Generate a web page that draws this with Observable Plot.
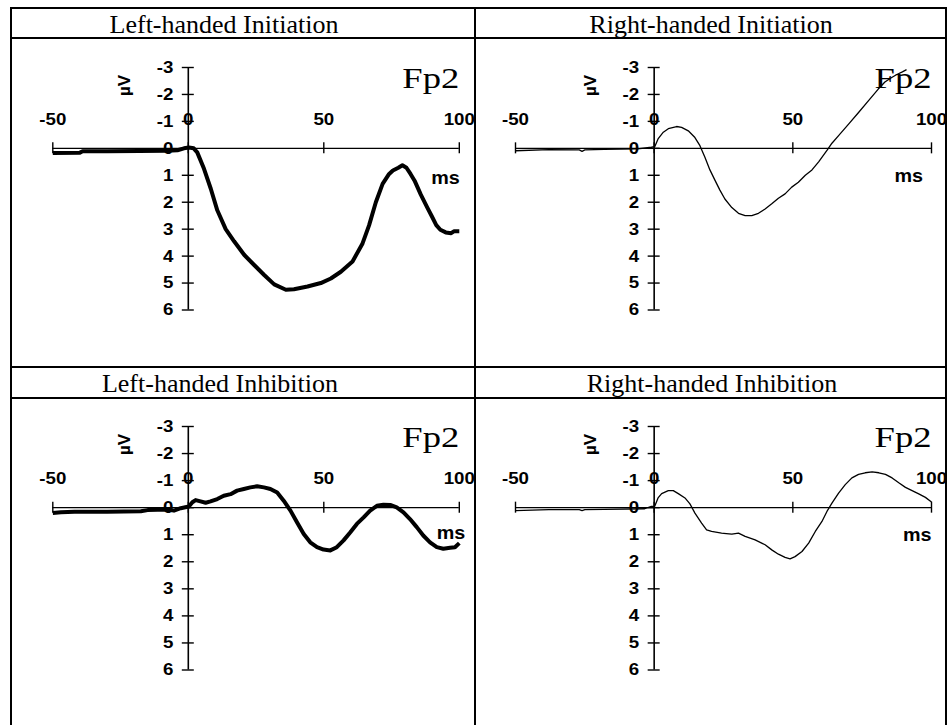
<!DOCTYPE html>
<html>
<head>
<meta charset="utf-8">
<script src="https://cdn.jsdelivr.net/npm/d3@7"></script>
<script src="https://cdn.jsdelivr.net/npm/@observablehq/plot@0.6"></script>
<style>
  html, body { margin: 0; padding: 0; overflow: hidden; background: #fff; }
  #page { position: relative; width: 948px; height: 725px; overflow: hidden; background: #fff; }
  .rule { position: absolute; background: #000; }
  .title { position: absolute; font-family: "Liberation Serif", "Times New Roman", serif; font-size: 26px; line-height: 26px; white-space: nowrap; transform: translateX(-50%); color: #000; }
  .cell { position: absolute; overflow: hidden; }
  .cell svg { overflow: hidden; }
</style>
</head>
<body>
<div id="page"></div>
<script>
// ---------- data ----------
const xTicks = [-50, 0, 50, 100];
const yTicks = [-3, -2, -1, 0, 1, 2, 3, 4, 5, 6];
const titles = ["Left-handed Initiation", "Right-handed Initiation", "Left-handed Inhibition", "Right-handed Inhibition"];
const electrode = "Fp2";
const xUnit = "ms";
const yUnit = "µV";

// Left-handed Initiation (ms, µV; positive plotted downward)
const leftInitTime = [-50, -40, -39, -30, -18, -8, -4, -1.6, 0.2, 2, 3.3, 5.8, 8.3, 10.7, 13.8, 16.9, 20.6, 24.3, 28, 31.7, 36, 39, 44, 48.9, 52.6, 56.3, 60.6, 64.3, 66.7, 69.2, 71.7, 74.1, 75.5, 77.5, 79, 80.5, 82, 83.5, 85.8, 88.2, 90, 91.5, 93, 95, 97, 98, 100];
const leftInitUV   = [0.17, 0.16, 0.11, 0.11, 0.1, 0.09, 0.07, 0, -0.03, 0, 0.15, 0.76, 1.5, 2.3, 3.0, 3.45, 3.95, 4.33, 4.7, 5.05, 5.25, 5.23, 5.13, 5.0, 4.83, 4.58, 4.2, 3.53, 2.86, 2.0, 1.32, 0.95, 0.82, 0.72, 0.63, 0.72, 0.95, 1.2, 1.72, 2.2, 2.55, 2.85, 3.02, 3.12, 3.15, 3.08, 3.08];

// Right-handed Initiation
const rightInitTime = [-50, -38, -27, -26, -25, -18, -6, -1, 0.2, 1.4, 3.3, 5.1, 8.1, 9.9, 12.3, 14.7, 16.5, 18.3, 20.1, 21.9, 23.7, 25.5, 28, 30.4, 32.8, 35.2, 37.6, 40, 42.4, 44.8, 47.2, 49.6, 52, 54.5, 56.9, 59.3, 62.5, 64.1, 66.5, 70.1, 73.7, 77.3, 80.8, 83.2, 85.5, 87.5, 89.5, 91];
const rightInitUV   = [0.09, 0.05, 0.06, 0.11, 0.06, 0.04, 0.02, -0.04, -0.06, -0.35, -0.6, -0.73, -0.81, -0.78, -0.65, -0.4, -0.1, 0.33, 0.8, 1.18, 1.55, 1.88, 2.2, 2.41, 2.5, 2.5, 2.41, 2.25, 2.06, 1.85, 1.69, 1.44, 1.26, 1.0, 0.8, 0.5, 0.05, -0.19, -0.47, -0.9, -1.33, -1.77, -2.2, -2.46, -2.62, -2.74, -2.84, -2.92];

// Left-handed Inhibition
const leftInhTime = [-50, -47, -42, -30, -17.5, -15, -7.7, -5.3, -2.8, 0.2, 1.5, 2.7, 4.5, 6.4, 8.2, 10.7, 13.1, 15.6, 18, 20.5, 22.9, 25.4, 27.9, 30.3, 32.8, 35.2, 37.7, 40.1, 42.6, 45, 47.5, 49.9, 52.4, 54.8, 57.3, 59.8, 62.2, 64.7, 67.1, 69.6, 72, 74.5, 76.9, 79.4, 81.8, 84.3, 86.7, 89.2, 91.7, 94.1, 96.6, 98.4, 100];
const leftInhUV   = [0.2, 0.17, 0.15, 0.15, 0.13, 0.09, 0.07, 0.11, 0.02, -0.04, -0.2, -0.28, -0.23, -0.18, -0.23, -0.32, -0.44, -0.5, -0.63, -0.69, -0.75, -0.79, -0.75, -0.69, -0.56, -0.26, 0.11, 0.54, 0.97, 1.28, 1.46, 1.55, 1.58, 1.46, 1.21, 0.91, 0.6, 0.36, 0.11, -0.07, -0.11, -0.1, -0.01, 0.17, 0.42, 0.72, 1.03, 1.28, 1.46, 1.52, 1.48, 1.46, 1.31];

// Right-handed Inhibition
const rightInhTime = [-50, -38, -27, -26, -25, -18, -3.4, -1, 0.2, 1.4, 2.7, 5.1, 6.9, 8.7, 11.1, 12.9, 14.7, 17.1, 18.9, 20.7, 24.3, 26, 28, 30.4, 32.8, 36.4, 40, 42.4, 44.8, 47.2, 49, 50.8, 53.3, 55.7, 58.1, 60.5, 62.3, 64.1, 66.5, 68.9, 71.3, 73.7, 76.1, 78.6, 81, 83.4, 85.8, 88.2, 90.6, 93, 95.4, 97.8, 100];
const rightInhUV   = [0.11, 0.07, 0.07, 0.11, 0.07, 0.06, 0.04, -0.05, -0.05, -0.36, -0.52, -0.63, -0.63, -0.52, -0.36, -0.14, 0.2, 0.57, 0.82, 0.88, 0.94, 0.96, 0.98, 0.94, 1.06, 1.19, 1.37, 1.56, 1.72, 1.84, 1.89, 1.81, 1.62, 1.31, 0.88, 0.51, 0.14, -0.17, -0.54, -0.85, -1.1, -1.23, -1.29, -1.32, -1.29, -1.23, -1.1, -0.92, -0.75, -0.63, -0.51, -0.38, -0.21];

// ---------- layout ----------
const page = document.getElementById("page");
function rule(l, t, w, h) {
  const d = document.createElement("div");
  d.className = "rule";
  Object.assign(d.style, {left: l + "px", top: t + "px", width: w + "px", height: h + "px"});
  page.appendChild(d);
}

const panels = [
  {title: titles[0], time: leftInitTime, uv: leftInitUV, sw: 4, left: 12, top: 39, width: 462, mL: 40.3, mR: 15.2, mT: 28, titleX: 224, titleTop: 11.5, msDx: 0.5, msDy: 30},
  {title: titles[1], time: rightInitTime, uv: rightInitUV, sw: 1.3, left: 476, top: 39, width: 469, mL: 39, mR: 14, mT: 28, titleX: 711, titleTop: 11.5, msDx: -8.5, msDy: 28},
  {title: titles[2], time: leftInhTime, uv: leftInhUV, sw: 4, left: 12, top: 399, width: 462, mL: 40.3, mR: 15.2, mT: 27, titleX: 220, titleTop: 370.5, msDx: 6, msDy: 25},
  {title: titles[3], time: rightInhTime, uv: rightInhUV, sw: 1.3, left: 476, top: 399, width: 469, mL: 39, mR: 14, mT: 27, titleX: 712, titleTop: 370.5, msDx: 0, msDy: 27}
];

const sansBold = "'Liberation Sans', Arial, sans-serif";
const tickSize = 17;

for (const p of panels) {
  const t = document.createElement("div");
  t.className = "title";
  t.textContent = p.title;
  t.style.left = p.titleX + "px";
  t.style.top = p.titleTop + "px";
  page.appendChild(t);

  const pts = p.time.map((x, i) => ({t: x, v: p.uv[i]}));
  const svg = Plot.plot({
    width: p.width,
    height: 327,
    marginLeft: p.mL,
    marginRight: p.mR,
    marginTop: p.mT,
    marginBottom: 56.5,
    x: {domain: [-50, 100], axis: null},
    y: {domain: [-3, 6], reverse: true, axis: null},
    style: {background: "white", overflow: "hidden"},
    marks: [
      Plot.ruleY([0], {x1: -50, x2: 100, stroke: "black", strokeWidth: 1.4}),
      Plot.ruleX([0], {y1: -3, y2: 6, stroke: "black", strokeWidth: 1.6}),
      Plot.ruleX(xTicks, {x: d => d, y1: 0, y2: 0, insetTop: -5.5, insetBottom: -5.5, stroke: "black", strokeWidth: 1.4}),
      Plot.ruleY(yTicks, {y: d => d, x1: 0, x2: 0, insetLeft: -6, insetRight: -6, stroke: "black", strokeWidth: 1.4}),
      Plot.text(yTicks, {x: 0, y: d => d, text: d => String(d), textAnchor: "end", dx: -15, fontFamily: sansBold, fontWeight: "bold", fontSize: tickSize, fill: "black"}),
      Plot.text(xTicks, {x: d => d, y: 0, text: d => String(d), dy: -29, fontFamily: sansBold, fontWeight: "bold", fontSize: tickSize, fill: "black"}),
      Plot.text([xUnit], {x: 100, y: 0, text: d => d, textAnchor: "end", dx: p.msDx, dy: p.msDy, fontFamily: sansBold, fontWeight: "bold", fontSize: 19, fill: "black"}),
      Plot.text([yUnit], {x: 0, y: -3, text: d => d, rotate: -90, dx: -64, dy: 18, fontFamily: sansBold, fontWeight: "bold", fontSize: 17, fill: "black"}),
      Plot.text([electrode], {x: 100, y: -3, text: d => d, textAnchor: "end", lineAnchor: "top", dy: -0.5, fontFamily: "'Liberation Serif', 'Times New Roman', serif", fontSize: 30, fill: "black"}),
      Plot.line(pts, {x: "t", y: "v", stroke: "black", strokeWidth: p.sw, strokeLinejoin: "round", strokeLinecap: "butt"})
    ]
  });
  // horizontal stretch of chart lettering, as in the embedded original
  svg.querySelectorAll("text").forEach(el => {
    const s = el.textContent;
    if (s === yUnit) return;
    const k = s === electrode ? 1.22 : s === xUnit ? 1.04 : 1.1;
    const tr = el.getAttribute("transform") || "";
    el.setAttribute("transform", tr + ` scale(${k},1)`);
  });
  const cell = document.createElement("div");
  cell.className = "cell";
  Object.assign(cell.style, {left: p.left + "px", top: p.top + "px", width: p.width + "px", height: "327px"});
  cell.appendChild(svg);
  page.appendChild(cell);
}

// table borders
rule(10, 7, 937, 2);
rule(10, 37, 937, 2);
rule(10, 366, 937, 2);
rule(10, 397, 937, 2);
rule(10, 7, 2, 720);
rule(474, 7, 2, 720);
rule(945, 7, 2, 720);
</script>
</body>
</html>
